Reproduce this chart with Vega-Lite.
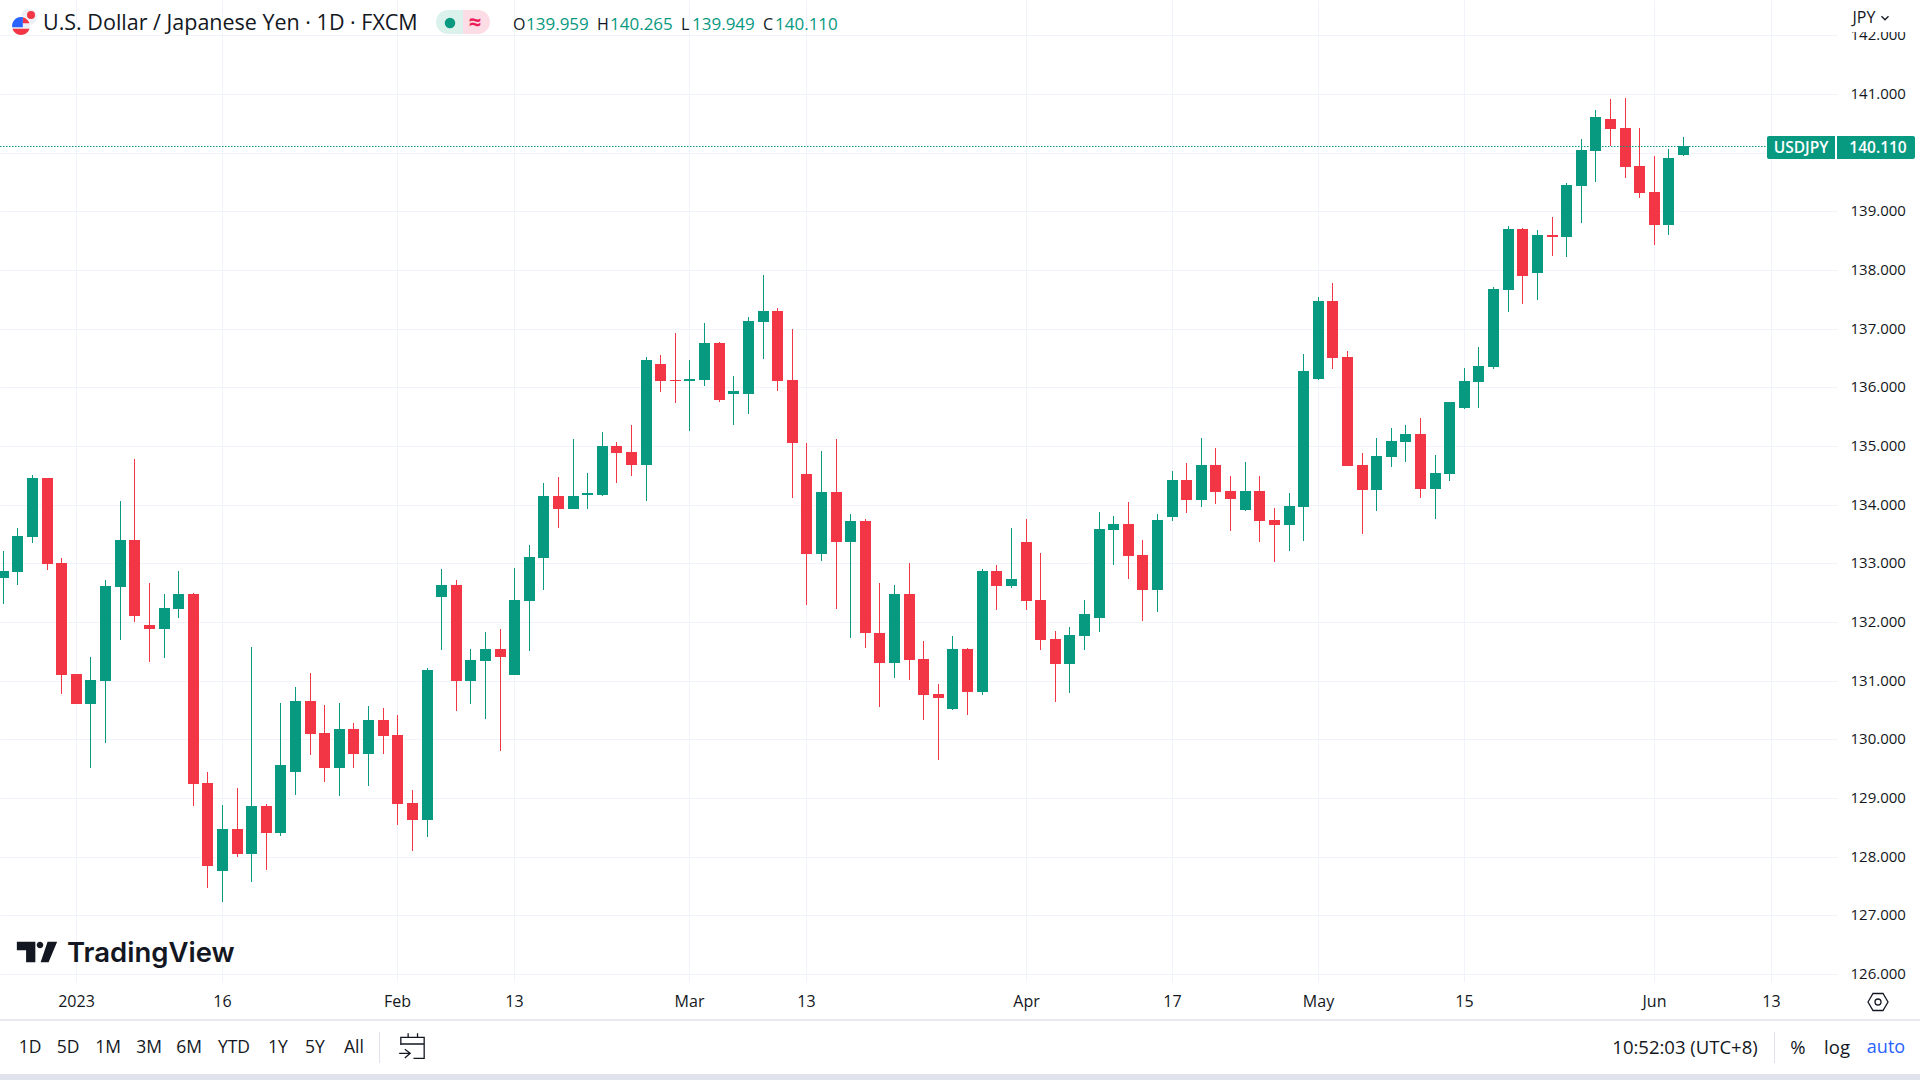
{
  "$schema": "https://vega.github.io/schema/vega-lite/v6.json",
  "background": "white",
  "autosize": {"type": "none"},
  "padding": {"left": 0, "top": 0, "right": 83, "bottom": 98},
  "width": 1837,
  "height": 982,
  "config": {"view": {"stroke": null}},
  "data": {
    "values": [
      {"date":"2022-12-26","i":0,"open":132.751,"high":133.211,"low":132.308,"close":132.870},
      {"date":"2022-12-27","i":1,"open":132.852,"high":133.602,"low":132.631,"close":133.466},
      {"date":"2022-12-28","i":2,"open":133.449,"high":134.506,"low":133.347,"close":134.455},
      {"date":"2022-12-29","i":3,"open":134.455,"high":134.455,"low":132.886,"close":132.989},
      {"date":"2022-12-30","i":4,"open":133.006,"high":133.091,"low":130.773,"close":131.097},
      {"date":"2023-01-02","i":5,"open":131.114,"high":131.114,"low":130.602,"close":130.602},
      {"date":"2023-01-03","i":6,"open":130.602,"high":131.403,"low":129.511,"close":131.011},
      {"date":"2023-01-04","i":7,"open":130.994,"high":132.716,"low":129.937,"close":132.614},
      {"date":"2023-01-05","i":8,"open":132.597,"high":134.063,"low":131.693,"close":133.398},
      {"date":"2023-01-06","i":9,"open":133.398,"high":134.778,"low":132.000,"close":132.102},
      {"date":"2023-01-09","i":10,"open":131.949,"high":132.665,"low":131.318,"close":131.881},
      {"date":"2023-01-10","i":11,"open":131.881,"high":132.477,"low":131.386,"close":132.239},
      {"date":"2023-01-11","i":12,"open":132.222,"high":132.870,"low":132.068,"close":132.477},
      {"date":"2023-01-12","i":13,"open":132.477,"high":132.495,"low":128.864,"close":129.238},
      {"date":"2023-01-13","i":14,"open":129.256,"high":129.443,"low":127.466,"close":127.841},
      {"date":"2023-01-16","i":15,"open":127.756,"high":128.881,"low":127.227,"close":128.472},
      {"date":"2023-01-17","i":16,"open":128.472,"high":129.170,"low":127.994,"close":128.045},
      {"date":"2023-01-18","i":17,"open":128.045,"high":131.574,"low":127.568,"close":128.864},
      {"date":"2023-01-19","i":18,"open":128.864,"high":128.898,"low":127.773,"close":128.403},
      {"date":"2023-01-20","i":19,"open":128.403,"high":130.619,"low":128.352,"close":129.563},
      {"date":"2023-01-23","i":20,"open":129.443,"high":130.892,"low":129.051,"close":130.653},
      {"date":"2023-01-24","i":21,"open":130.653,"high":131.131,"low":129.733,"close":130.091},
      {"date":"2023-01-25","i":22,"open":130.108,"high":130.585,"low":129.273,"close":129.511},
      {"date":"2023-01-26","i":23,"open":129.511,"high":130.619,"low":129.034,"close":130.176},
      {"date":"2023-01-27","i":24,"open":130.176,"high":130.278,"low":129.511,"close":129.750},
      {"date":"2023-01-30","i":25,"open":129.750,"high":130.568,"low":129.205,"close":130.330},
      {"date":"2023-01-31","i":26,"open":130.330,"high":130.534,"low":129.750,"close":130.057},
      {"date":"2023-02-01","i":27,"open":130.074,"high":130.415,"low":128.540,"close":128.898},
      {"date":"2023-02-02","i":28,"open":128.915,"high":129.136,"low":128.097,"close":128.625},
      {"date":"2023-02-03","i":29,"open":128.625,"high":131.216,"low":128.335,"close":131.182},
      {"date":"2023-02-06","i":30,"open":132.426,"high":132.903,"low":131.523,"close":132.631},
      {"date":"2023-02-07","i":31,"open":132.631,"high":132.716,"low":130.483,"close":130.994},
      {"date":"2023-02-08","i":32,"open":130.994,"high":131.540,"low":130.602,"close":131.352},
      {"date":"2023-02-09","i":33,"open":131.339,"high":131.833,"low":130.351,"close":131.543},
      {"date":"2023-02-10","i":34,"open":131.543,"high":131.884,"low":129.805,"close":131.407},
      {"date":"2023-02-13","i":35,"open":131.100,"high":132.924,"low":131.100,"close":132.378},
      {"date":"2023-02-14","i":36,"open":132.361,"high":133.316,"low":131.509,"close":133.111},
      {"date":"2023-02-15","i":37,"open":133.094,"high":134.372,"low":132.549,"close":134.151},
      {"date":"2023-02-16","i":38,"open":134.151,"high":134.474,"low":133.605,"close":133.929},
      {"date":"2023-02-17","i":39,"open":133.929,"high":135.122,"low":133.929,"close":134.151},
      {"date":"2023-02-20","i":40,"open":134.168,"high":134.542,"low":133.929,"close":134.202},
      {"date":"2023-02-21","i":41,"open":134.168,"high":135.241,"low":134.151,"close":135.003},
      {"date":"2023-02-22","i":42,"open":135.003,"high":135.071,"low":134.372,"close":134.883},
      {"date":"2023-02-23","i":43,"open":134.900,"high":135.360,"low":134.491,"close":134.679},
      {"date":"2023-02-24","i":44,"open":134.679,"high":136.519,"low":134.065,"close":136.468},
      {"date":"2023-02-27","i":45,"open":136.400,"high":136.553,"low":135.923,"close":136.110},
      {"date":"2023-02-28","i":46,"open":136.127,"high":136.928,"low":135.735,"close":136.110},
      {"date":"2023-03-01","i":47,"open":136.110,"high":136.468,"low":135.258,"close":136.144},
      {"date":"2023-03-02","i":48,"open":136.127,"high":137.098,"low":136.025,"close":136.758},
      {"date":"2023-03-03","i":49,"open":136.758,"high":136.775,"low":135.752,"close":135.786},
      {"date":"2023-03-06","i":50,"open":135.889,"high":136.195,"low":135.360,"close":135.940},
      {"date":"2023-03-07","i":51,"open":135.889,"high":137.201,"low":135.548,"close":137.133},
      {"date":"2023-03-08","i":52,"open":137.116,"high":137.916,"low":136.485,"close":137.303},
      {"date":"2023-03-09","i":53,"open":137.303,"high":137.354,"low":135.940,"close":136.110},
      {"date":"2023-03-10","i":54,"open":136.127,"high":136.996,"low":134.116,"close":135.054},
      {"date":"2023-03-13","i":55,"open":134.525,"high":135.054,"low":132.293,"close":133.162},
      {"date":"2023-03-14","i":56,"open":133.162,"high":134.917,"low":133.043,"close":134.219},
      {"date":"2023-03-15","i":57,"open":134.219,"high":135.122,"low":132.225,"close":133.367},
      {"date":"2023-03-16","i":58,"open":133.367,"high":133.844,"low":131.731,"close":133.725},
      {"date":"2023-03-17","i":59,"open":133.725,"high":133.759,"low":131.560,"close":131.816},
      {"date":"2023-03-20","i":60,"open":131.816,"high":132.668,"low":130.555,"close":131.305},
      {"date":"2023-03-21","i":61,"open":131.305,"high":132.634,"low":131.049,"close":132.481},
      {"date":"2023-03-22","i":62,"open":132.481,"high":133.009,"low":131.015,"close":131.356},
      {"date":"2023-03-23","i":63,"open":131.373,"high":131.680,"low":130.334,"close":130.760},
      {"date":"2023-03-24","i":64,"open":130.777,"high":130.947,"low":129.652,"close":130.708},
      {"date":"2023-03-27","i":65,"open":130.521,"high":131.765,"low":130.504,"close":131.543},
      {"date":"2023-03-28","i":66,"open":131.543,"high":131.560,"low":130.419,"close":130.811},
      {"date":"2023-03-29","i":67,"open":130.811,"high":132.907,"low":130.760,"close":132.873},
      {"date":"2023-03-30","i":68,"open":132.873,"high":132.975,"low":132.208,"close":132.617},
      {"date":"2023-03-31","i":69,"open":132.617,"high":133.605,"low":132.583,"close":132.736},
      {"date":"2023-04-03","i":70,"open":133.367,"high":133.759,"low":132.208,"close":132.361},
      {"date":"2023-04-04","i":71,"open":132.378,"high":133.179,"low":131.526,"close":131.697},
      {"date":"2023-04-05","i":72,"open":131.714,"high":131.850,"low":130.640,"close":131.288},
      {"date":"2023-04-06","i":73,"open":131.288,"high":131.918,"low":130.794,"close":131.782},
      {"date":"2023-04-07","i":74,"open":131.765,"high":132.378,"low":131.526,"close":132.140},
      {"date":"2023-04-10","i":75,"open":132.072,"high":133.878,"low":131.833,"close":133.588},
      {"date":"2023-04-11","i":76,"open":133.571,"high":133.810,"low":132.975,"close":133.673},
      {"date":"2023-04-12","i":77,"open":133.673,"high":134.048,"low":132.736,"close":133.128},
      {"date":"2023-04-13","i":78,"open":133.145,"high":133.401,"low":132.021,"close":132.549},
      {"date":"2023-04-14","i":79,"open":132.549,"high":133.844,"low":132.174,"close":133.742},
      {"date":"2023-04-17","i":80,"open":133.793,"high":134.577,"low":133.725,"close":134.423},
      {"date":"2023-04-18","i":81,"open":134.423,"high":134.713,"low":133.861,"close":134.082},
      {"date":"2023-04-19","i":82,"open":134.082,"high":135.139,"low":133.963,"close":134.679},
      {"date":"2023-04-20","i":83,"open":134.679,"high":134.968,"low":134.014,"close":134.219},
      {"date":"2023-04-21","i":84,"open":134.236,"high":134.491,"low":133.554,"close":134.099},
      {"date":"2023-04-24","i":85,"open":133.912,"high":134.730,"low":133.895,"close":134.236},
      {"date":"2023-04-25","i":86,"open":134.236,"high":134.491,"low":133.367,"close":133.725},
      {"date":"2023-04-26","i":87,"open":133.742,"high":133.946,"low":133.026,"close":133.656},
      {"date":"2023-04-27","i":88,"open":133.656,"high":134.202,"low":133.213,"close":133.980},
      {"date":"2023-04-28","i":89,"open":133.963,"high":136.570,"low":133.384,"close":136.281},
      {"date":"2023-05-01","i":90,"open":136.144,"high":137.542,"low":136.127,"close":137.473},
      {"date":"2023-05-02","i":91,"open":137.473,"high":137.780,"low":136.315,"close":136.502},
      {"date":"2023-05-03","i":92,"open":136.519,"high":136.621,"low":134.662,"close":134.662},
      {"date":"2023-05-04","i":93,"open":134.679,"high":134.883,"low":133.503,"close":134.253},
      {"date":"2023-05-05","i":94,"open":134.253,"high":135.139,"low":133.895,"close":134.832},
      {"date":"2023-05-08","i":95,"open":134.813,"high":135.307,"low":134.642,"close":135.085},
      {"date":"2023-05-09","i":96,"open":135.068,"high":135.358,"low":134.727,"close":135.204},
      {"date":"2023-05-10","i":97,"open":135.204,"high":135.477,"low":134.114,"close":134.267},
      {"date":"2023-05-11","i":98,"open":134.267,"high":134.847,"low":133.756,"close":134.540},
      {"date":"2023-05-12","i":99,"open":134.523,"high":135.752,"low":134.404,"close":135.752},
      {"date":"2023-05-15","i":100,"open":135.650,"high":136.331,"low":135.633,"close":136.110},
      {"date":"2023-05-16","i":101,"open":136.093,"high":136.689,"low":135.650,"close":136.366},
      {"date":"2023-05-17","i":102,"open":136.349,"high":137.712,"low":136.314,"close":137.678},
      {"date":"2023-05-18","i":103,"open":137.661,"high":138.751,"low":137.286,"close":138.700},
      {"date":"2023-05-19","i":104,"open":138.700,"high":138.717,"low":137.422,"close":137.899},
      {"date":"2023-05-22","i":105,"open":137.950,"high":138.683,"low":137.490,"close":138.598},
      {"date":"2023-05-23","i":106,"open":138.598,"high":138.905,"low":138.240,"close":138.564},
      {"date":"2023-05-24","i":107,"open":138.564,"high":139.484,"low":138.223,"close":139.450},
      {"date":"2023-05-25","i":108,"open":139.433,"high":140.234,"low":138.802,"close":140.046},
      {"date":"2023-05-26","i":109,"open":140.029,"high":140.728,"low":139.501,"close":140.609},
      {"date":"2023-05-29","i":110,"open":140.574,"high":140.915,"low":140.114,"close":140.404},
      {"date":"2023-05-30","i":111,"open":140.421,"high":140.932,"low":139.569,"close":139.757},
      {"date":"2023-05-31","i":112,"open":139.774,"high":140.421,"low":139.228,"close":139.313},
      {"date":"2023-06-01","i":113,"open":139.331,"high":139.944,"low":138.427,"close":138.768},
      {"date":"2023-06-02","i":114,"open":138.768,"high":140.063,"low":138.598,"close":139.910},
      {"date":"2023-06-05","i":115,"open":139.959,"high":140.265,"low":139.949,"close":140.110}
    ]
  },
  "encoding": {
    "x": {
      "field": "i",
      "type": "quantitative",
      "scale": {"domain": [-0.1916, 125.54], "nice": false, "zero": false, "padding": 0, "round": true},
      "axis": {
        "title": null,
        "orient": "bottom",
        "values": [5, 15, 27, 35, 47, 55, 70, 80, 90, 100, 113, 121],
        "labelExpr": "{'5':'2023','15':'16','27':'Feb','35':'13','47':'Mar','55':'13','70':'Apr','80':'17','90':'May','100':'15','113':'Jun','121':'13'}['' + datum.value]",
        "labelFont": "Open Sans",
        "labelFontSize": 16,
        "labelColor": "#131722",
        "labelPadding": 11.5,
        "labelFlush": false,
        "labelOverlap": false,
        "domain": false,
        "ticks": false,
        "grid": true,
        "gridColor": "#F0F3FA",
        "gridWidth": 1
      }
    },
    "y": {
      "field": "price",
      "type": "quantitative",
      "scale": {"domain": [125.864, 142.602], "nice": false, "zero": false, "round": true},
      "axis": {
        "title": null,
        "orient": "right",
        "values": [126, 127, 128, 129, 130, 131, 132, 133, 134, 135, 136, 137, 138, 139, 140, 141, 142],
        "format": ".3f",
        "labelFont": "Open Sans",
        "labelFontSize": 15,
        "labelColor": "#131722",
        "labelPadding": 13,
        "labelOffset": -0.8,
        "labelOverlap": false,
        "labelFlush": false,
        "domain": false,
        "ticks": false,
        "grid": true,
        "gridColor": "#F0F3FA",
        "gridWidth": 1
      }
    }
  },
  "layer": [
    {
      "mark": {"type": "rule", "strokeWidth": 1, "xOffset": 0.5},
      "encoding": {
        "y": {"field": "high", "type": "quantitative", "scale": {"domain": [125.864, 142.602], "nice": false, "zero": false, "round": true}},
        "y2": {"field": "low"},
        "color": {"condition": {"test": "datum.close >= datum.open", "value": "#089981"}, "value": "#F23645"}
      }
    },
    {
      "mark": {"type": "bar", "width": 11, "xOffset": 0.5},
      "encoding": {
        "y": {"field": "open", "type": "quantitative", "scale": {"domain": [125.864, 142.602], "nice": false, "zero": false, "round": true}},
        "y2": {"field": "close"},
        "color": {"condition": {"test": "datum.close >= datum.open", "value": "#089981"}, "value": "#F23645"}
      }
    },
    {
      "data": {"values": [{"i": -0.1916, "i2": 120.72, "price": 140.11}]},
      "mark": {"type": "rule", "color": "#089981", "strokeWidth": 1, "strokeDash": [1.5, 1.5], "yOffset": 0.5},
      "encoding": {"x2": {"field": "i2"}}
    },
    {
      "data": {"values": [{"i": 125.54, "i2": 131.19, "price": 142.602, "price2": 142.065}]},
      "mark": {"type": "rect", "color": "white"},
      "encoding": {"x2": {"field": "i2"}, "y2": {"field": "price2"}}
    },
    {
      "data": {"values": [{"i": -0.1916, "i2": 131.19, "price": 125.216}]},
      "mark": {"type": "rule", "color": "#E0E3EB", "strokeWidth": 1.5},
      "encoding": {"x2": {"field": "i2"}}
    },
    {
      "data": {"values": [{"i": -0.1916, "i2": 131.19, "price": 124.296, "price2": 124.194}]},
      "mark": {"type": "rect", "color": "#E0E3EB"},
      "encoding": {"x2": {"field": "i2"}, "y2": {"field": "price2"}}
    },
    {
      "data": {"values": [{"i": 25.76, "price": 125.012, "price2": 124.484}, {"i": 121.2, "price": 125.012, "price2": 124.484}]},
      "mark": {"type": "rule", "color": "#E0E3EB", "strokeWidth": 1, "xOffset": 0.5},
      "encoding": {"y2": {"field": "price2"}}
    },
    {
      "data": {"values": [{"i": 120.72, "i2": 130.85, "price": 140.285, "price2": 139.894}]},
      "mark": {"type": "rect", "color": "#089981", "cornerRadius": 2},
      "encoding": {"x2": {"field": "i2"}, "y2": {"field": "price2"}}
    },
    {
      "data": {"values": [{"i": 125.4, "i2": 125.51, "price": 140.285, "price2": 139.894}]},
      "mark": {"type": "rect", "color": "white"},
      "encoding": {"x2": {"field": "i2"}, "y2": {"field": "price2"}}
    },
    {
      "data": {"values": [{"label": "USDJPY", "i": 123.05, "price": 140.08}, {"label": "140.110", "i": 128.32, "price": 140.08}]},
      "mark": {"type": "text", "font": "Open Sans", "fontSize": 15.5, "fontWeight": 600, "color": "white", "baseline": "middle"},
      "encoding": {"text": {"field": "label"}}
    },
    {
      "data": {"values": [{"i": 29.62, "i2": 31.51, "price": 142.431, "price2": 142.022}]},
      "mark": {"type": "rect", "color": "#DAF1EC", "cornerRadiusTopLeft": 12, "cornerRadiusBottomLeft": 12},
      "encoding": {"x2": {"field": "i2"}, "y2": {"field": "price2"}}
    },
    {
      "data": {"values": [{"i": 31.51, "i2": 33.38, "price": 142.431, "price2": 142.022}]},
      "mark": {"type": "rect", "color": "#FCDCE5", "cornerRadiusTopRight": 12, "cornerRadiusBottomRight": 12},
      "encoding": {"x2": {"field": "i2"}, "y2": {"field": "price2"}}
    },
    {
      "data": {"values": [{"i": 30.64, "price": 142.218}]},
      "mark": {"type": "point", "shape": "circle", "filled": true, "size": 110, "color": "#089981", "opacity": 1}
    },
    {
      "data": {"values": [{"label": "≈", "i": 32.35, "price": 142.218}]},
      "mark": {"type": "text", "font": "Open Sans", "fontSize": 22, "fontWeight": 700, "color": "#EC1D5A", "baseline": "middle"},
      "encoding": {"text": {"field": "label"}}
    },
    {
      "data": {"values": [{"label": "U.S. Dollar / Japanese Yen · 1D · FXCM", "i": 2.78, "price": 142.2}]},
      "mark": {"type": "text", "font": "Open Sans", "fontSize": 21.5, "color": "#131722", "align": "left", "baseline": "middle"},
      "encoding": {"text": {"field": "label"}}
    },
    {
      "data": {"values": [
        {"label": "O", "i": 34.89, "price": 142.184},
        {"label": "H", "i": 40.68, "price": 142.184},
        {"label": "L", "i": 46.43, "price": 142.184},
        {"label": "C", "i": 52.04, "price": 142.184}
      ]},
      "mark": {"type": "text", "font": "Open Sans", "fontSize": 16, "color": "#131722", "align": "left", "baseline": "middle"},
      "encoding": {"text": {"field": "label"}}
    },
    {
      "data": {"values": [
        {"label": "139.959", "i": 35.82, "price": 142.184},
        {"label": "140.265", "i": 41.59, "price": 142.184},
        {"label": "139.949", "i": 47.18, "price": 142.184},
        {"label": "140.110", "i": 52.82, "price": 142.184}
      ]},
      "mark": {"type": "text", "font": "Open Sans", "fontSize": 17, "color": "#089981", "align": "left", "baseline": "middle"},
      "encoding": {"text": {"field": "label"}}
    },
    {
      "data": {"values": [{"i": 1.76, "price": 142.317}]},
      "mark": {"type": "point", "shape": "circle", "filled": true, "size": 256, "color": "#EDEFF5", "opacity": 1}
    },
    {
      "data": {"values": [{"i": 1.9, "price": 142.346}]},
      "mark": {"type": "point", "shape": "circle", "filled": true, "size": 64, "color": "#F23645", "opacity": 1}
    },
    {
      "data": {"values": [{"i": 1.26, "price": 142.159}]},
      "mark": {"type": "point", "shape": "circle", "filled": true, "size": 400, "color": "white", "opacity": 1}
    },
    {
      "data": {"values": [{"i": 1.26, "price": 142.159}]},
      "mark": {"type": "point", "shape": "circle", "filled": true, "size": 324, "color": "#EDEFF5", "opacity": 1}
    },
    {
      "data": {"values": [{"i": 1.26, "price": 142.159}]},
      "mark": {"type": "point", "shape": "M-.95 .3A1 1 0 0 0 .95 .3ZM.2 -.98A1 1 0 0 1 .95 -.3L.2 -.3Z", "filled": true, "size": 324, "color": "#F23645", "opacity": 1, "strokeWidth": 0}
    },
    {
      "data": {"values": [{"i": 1.26, "price": 142.159}]},
      "mark": {"type": "point", "shape": "M-.98 .15A1 1 0 0 1 0 -1L.2 -1L.2 .15Z", "filled": true, "size": 324, "color": "#2962FF", "opacity": 1, "strokeWidth": 0}
    },
    {
      "data": {"values": [{"label": "JPY", "i": 127.36, "price": 142.295}]},
      "mark": {"type": "text", "font": "Open Sans", "fontSize": 16, "color": "#131722", "baseline": "middle"},
      "encoding": {"text": {"field": "label"}}
    },
    {
      "data": {"values": [{"i": 128.83, "price": 142.295}]},
      "mark": {"type": "point", "shape": "M-1 -.5L0 .5L1 -.5", "filled": false, "size": 49, "color": "#131722", "opacity": 1, "strokeWidth": 1.3}
    },
    {
      "data": {"values": [{"i": 2.36, "price": 126.37}]},
      "mark": {"type": "point", "shape": "M-1 -.508L-.082 -.508L-.082 .508L-.541 .508L-.541 -.082L-1 -.082ZM.525 -.508L1 -.508L.574 .508L.18 .508ZM-.016 -.344A.164 .164 0 1 0 .312 -.344A.164 .164 0 1 0 -.016 -.344Z", "filled": true, "size": 1624, "color": "#131722", "opacity": 1, "strokeWidth": 0}
    },
    {
      "data": {"values": [{"label": "TradingView", "i": 4.36, "price": 126.342}]},
      "mark": {"type": "text", "font": "Inter", "fontSize": 27.5, "fontWeight": 600, "color": "#131722", "align": "left", "baseline": "middle"},
      "encoding": {"text": {"field": "label"}}
    },
    {
      "data": {"values": [
        {"label": "1D", "i": 1.83, "price": 124.739},
        {"label": "5D", "i": 4.47, "price": 124.739},
        {"label": "1M", "i": 7.17, "price": 124.739},
        {"label": "3M", "i": 9.98, "price": 124.739},
        {"label": "6M", "i": 12.72, "price": 124.739},
        {"label": "YTD", "i": 15.85, "price": 124.739},
        {"label": "1Y", "i": 18.85, "price": 124.739},
        {"label": "5Y", "i": 21.38, "price": 124.739},
        {"label": "All", "i": 24.03, "price": 124.739}
      ]},
      "mark": {"type": "text", "font": "Open Sans", "fontSize": 17.5, "color": "#131722", "baseline": "middle"},
      "encoding": {"text": {"field": "label"}}
    },
    {
      "data": {"values": [
        {"label": "10:52:03 (UTC+8)", "i": 115.17, "price": 124.739},
        {"label": "%", "i": 122.89, "price": 124.739},
        {"label": "log", "i": 125.56, "price": 124.739}
      ]},
      "mark": {"type": "text", "font": "Open Sans", "fontSize": 18.5, "color": "#131722", "baseline": "middle"},
      "encoding": {"text": {"field": "label"}}
    },
    {
      "data": {"values": [{"label": "auto", "i": 128.91, "price": 124.739}]},
      "mark": {"type": "text", "font": "Open Sans", "fontSize": 18, "color": "#2962FF", "baseline": "middle"},
      "encoding": {"text": {"field": "label"}}
    },
    {
      "data": {"values": [{"i": 28.0, "price": 124.773}]},
      "mark": {"type": "point", "shape": "M-.87 -.08L-.87 -.675L.948 -.675L.948 .96L.117 .96M-.87 -.156L.948 -.156M-.3 -.987L-.3 -.675M.43 -.987L.43 -.675M-1 .57L-.143 .57M-.558 .26L-.143 .57L-.558 .935", "filled": false, "size": 660, "color": "#131722", "opacity": 1, "strokeWidth": 1.3}
    },
    {
      "data": {"values": [{"i": 128.38, "price": 125.528}]},
      "mark": {"type": "point", "shape": "M-1 0L-.5 -.85L.5 -.85L1 0L.5 .85L-.5 .85ZM-.3 0A.3 .3 0 1 0 .3 0A.3 .3 0 1 0 -.3 0Z", "filled": false, "size": 400, "color": "#131722", "opacity": 1, "strokeWidth": 1.3}
    }
  ]
}
